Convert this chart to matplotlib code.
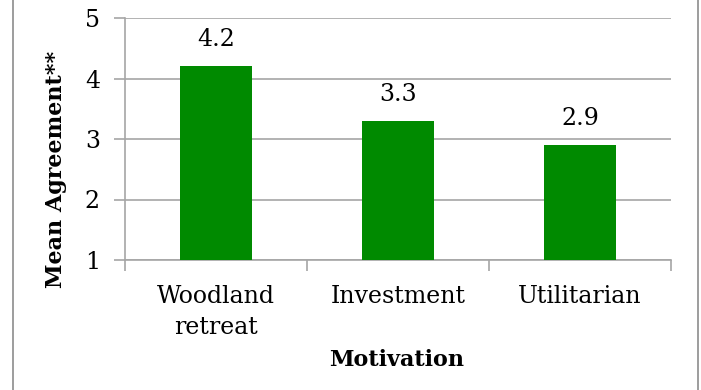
import matplotlib
matplotlib.use("Agg")
import matplotlib.pyplot as plt
from matplotlib.lines import Line2D
import numpy as np

categories = ["Woodland\nretreat", "Investment", "Utilitarian"]
values = [4.2, 3.3, 2.9]
yticks = [1, 2, 3, 4, 5]

plt.rcParams['font.family'] = ['DejaVu Serif']

fig = plt.figure(figsize=(7.01, 3.90), dpi=100)
ax = fig.add_axes([125/701, 1-260/390, 546/701, 242/390])

grid_c = '#a6a6a6'
x = np.arange(len(categories))
ax.bar(x, np.array(values) - 1, bottom=1, width=0.4, color='#008a00', zorder=3)
ax.set_ylim(1, 5)
ax.set_xlim(-0.5, len(categories) - 0.5)
ax.set_yticks(yticks)
ax.set_yticklabels([str(t) for t in yticks], fontsize=17)
ax.yaxis.grid(True, color=grid_c, linewidth=1.2, zorder=0)
ax.set_xticks(x)
ax.set_xticklabels(categories, fontsize=17, linespacing=1.45)
ax.set_xticks(np.arange(-0.5, len(categories)), minor=True)
ax.tick_params(axis='x', which='major', length=0, pad=18)
ax.tick_params(axis='x', which='minor', length=8, color=grid_c, width=1.2)
ax.tick_params(axis='y', length=8, color=grid_c, width=1.2, pad=10)
for s in ['top', 'right']:
    ax.spines[s].set_visible(False)
for s in ['left', 'bottom']:
    ax.spines[s].set_color(grid_c)
    ax.spines[s].set_linewidth(1.2)

for xi, v in zip(x, values):
    ax.annotate(f"{v:.1f}", (xi, v), xytext=(0, 11), textcoords='offset points',
                ha='center', va='bottom', fontsize=17)

ax.set_ylabel("Mean Agreement**", fontsize=16, fontweight='bold')
ax.yaxis.set_label_coords((56-125)/546, (260-169)/242)
ax.yaxis.label.set_va('center')
ax.yaxis.label.set_ha('center')
ax.set_xlabel("Motivation", fontsize=16, fontweight='bold')
ax.xaxis.set_label_coords((397-125)/546, -(360-260)/242)
ax.xaxis.label.set_va('center')

fig.add_artist(Line2D([13/701, 13/701], [0, 1], color='#8c8c8c', linewidth=1.2))
fig.add_artist(Line2D([698/701, 698/701], [0, 1], color='#8c8c8c', linewidth=1.2))

fig.savefig("out.png", dpi=100)
